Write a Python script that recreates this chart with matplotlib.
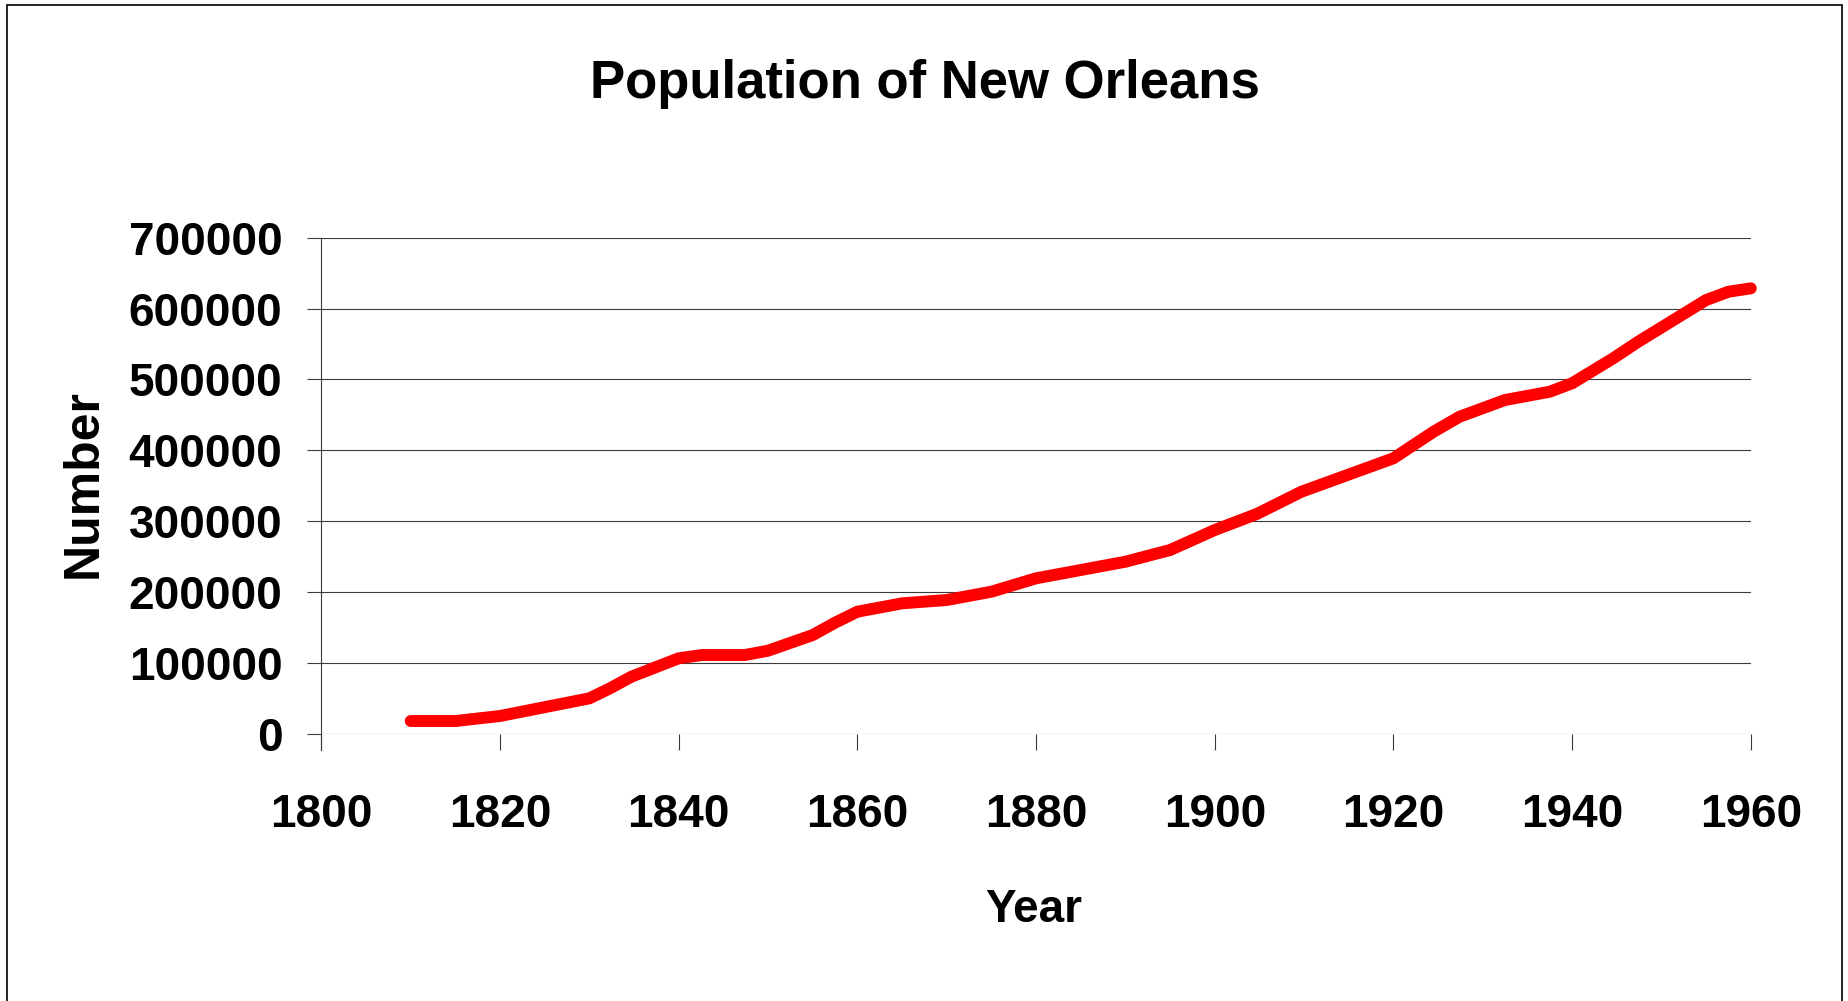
import matplotlib
matplotlib.use("Agg")
import numpy as np
from matplotlib import pyplot as plt
from matplotlib.patches import Rectangle

# values
years = [1810, 1815, 1820, 1830, 1832.3, 1834.7, 1840, 1842.6, 1847.4, 1850,
         1855, 1857.5, 1860, 1865, 1870, 1875, 1880, 1885, 1890, 1895,
         1900, 1904.7, 1909.7, 1920, 1924.5, 1927.4, 1932.5, 1937.5, 1940,
         1944.6, 1947.4, 1955, 1957.5, 1960]
population = [18300, 18300, 25400, 50300, 64400, 80800, 106800, 111400, 111400, 117500,
              139600, 157000, 172500, 184300, 189000, 200700, 219600, 231300, 243000, 259500,
              287700, 310300, 341700, 388900, 426400, 447500, 471100, 482800, 494700,
              529900, 553300, 612100, 623800, 628600]
x_ticks = list(range(1800, 1961, 20))
y_ticks = list(range(0, 700001, 100000))

plt.rcParams['font.family'] = ['Liberation Sans', 'DejaVu Sans']
plt.rcParams['font.weight'] = 'bold'

fig = plt.figure(figsize=(18.49, 10.01), dpi=100)
ax = fig.add_axes([0.1738, 0.26673, 0.7731, 0.49581])

ax.plot(years, population, color='#ff0000', lw=8.6,
        solid_capstyle='round', solid_joinstyle='miter', clip_on=False, zorder=3)

ax.set_xlim(1800, 1960)
ax.set_ylim(0, 700000)
ax.set_xticks(x_ticks)
ax.set_yticks(y_ticks)
ax.set_xticklabels([str(t) for t in x_ticks])
ax.set_yticklabels([str(t) for t in y_ticks])

ax.yaxis.grid(True, color='#3a3a3a', lw=0.8)
ax.set_axisbelow(True)
for side in ['top', 'right', 'bottom']:
    ax.spines[side].set_visible(False)
ax.spines['left'].set_color('#3a3a3a')
ax.spines['left'].set_linewidth(0.8)
ax.spines['left'].set_bounds(-22400, 700000)

ax.tick_params(axis='x', direction='out', length=11.5, width=0.8, color='#3a3a3a',
               pad=31, labelsize=33)
ax.tick_params(axis='y', direction='out', length=10, width=0.8, color='#3a3a3a',
               pad=18, labelsize=33)
for lab in ax.get_xticklabels() + ax.get_yticklabels():
    lab.set_fontweight('bold')

fig.text(0.5, 0.9018, 'Population of New Orleans', ha='center', va='baseline',
         fontsize=38, fontweight='bold')
fig.text(0.559, 0.079, 'Year', ha='center', va='baseline',
         fontsize=33, fontweight='bold')
fig.text(0.0452, 0.5165, 'Number', ha='center', va='center', rotation=90,
         fontsize=36, fontweight='bold')

# outer frame
fig.patches.append(Rectangle((7 / 1849, -0.01), (1842 - 7) / 1849, 1.01 - 5 / 1001,
                             transform=fig.transFigure, fill=False,
                             edgecolor='black', lw=1.2))

fig.savefig('out.png', dpi=100, facecolor='white')
